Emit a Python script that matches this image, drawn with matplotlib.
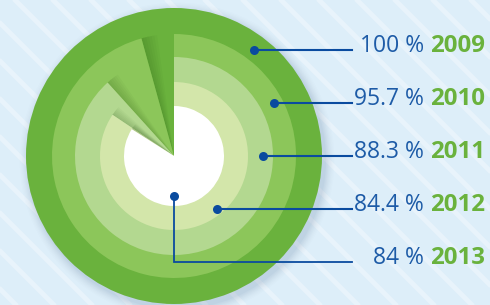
import matplotlib
matplotlib.use("Agg")
import matplotlib.pyplot as plt
from matplotlib.patches import Wedge, Circle, Rectangle
import numpy as np

# ---- data ----
years = ["2009", "2010", "2011", "2012", "2013"]
values = [100, 95.7, 88.3, 84.4, 84]
pct_labels = ["100 %", "95.7 %", "88.3 %", "84.4 %", "84 %"]

# ---- style ----
W, H = 490, 305
radii = [148, 122, 99, 74, 50]
colors = ["#6ab23d", "#8cc65a", "#b3d890", "#d3e6aa", "#ffffff"]
bg = "#ddeef9"
stripe = "#e8f3fb"
blue_txt = "#1d5ba7"
green_txt = "#6ab23d"
line_col = "#0a4b9f"

cx, cy = 174, H - 156
dots_img = [(254, 50), (274, 103), (263, 156), (217, 209), (174, 196)]
line_y_img = [50, 103, 156, 209, 262]
line_end = 352

fig = plt.figure(figsize=(W / 100, H / 100), dpi=100)
ax = fig.add_axes([0, 0, 1, 1])
ax.set_xlim(0, W)
ax.set_ylim(0, H)
ax.set_aspect("auto")
ax.axis("off")

# background
ax.add_patch(Rectangle((0, 0), W, H, color=bg, zorder=0))
for c in np.arange(-60, W + H + 60, 38):
    ax.plot([c - H - 10, c + 10], [H + 10, -10], color=stripe, lw=3.5,
            solid_capstyle="butt", zorder=0.5)

# drop shadow of disc
for k, a in zip(range(8), np.linspace(0.035, 0.01, 8)):
    ax.add_patch(Circle((cx + 3, cy - 4), radii[0] + 1 + k * 1.2,
                        color="#40608a", alpha=a, lw=0, zorder=1))

# wedges with soft shadows at their edges
for i, (v, r, col) in enumerate(zip(values, radii, colors)):
    t1 = 90 - v * 3.6
    ax.add_patch(Wedge((cx, cy), r, t1, 90, facecolor=col, edgecolor="none",
                       zorder=2 + i * 2, antialiased=True))
    if v < 100:
        end = 450 - v * 3.6
        for k in range(6):
            ax.add_patch(Wedge((cx, cy), r, end - 1.0 - k * 1.3, end,
                               facecolor="#1e4a10", alpha=0.035,
                               edgecolor="none", zorder=1.5 + i * 2))

# leader lines, dots and labels
for i in range(len(years)):
    dx, dyi = dots_img[i]
    dy = H - dyi
    ly = H - line_y_img[i]
    if i == len(years) - 1:
        ax.plot([dx, dx, line_end], [dy, ly, ly], color=line_col, lw=1.3,
                zorder=20, solid_joinstyle="miter")
    else:
        ax.plot([dx, line_end], [dy, ly], color=line_col, lw=1.5, zorder=20)
    ax.plot(dx, dy, "o", color=line_col, ms=6.5, mec="none", zorder=21)
    ax.text(424, ly - 2, pct_labels[i], ha="right", va="baseline",
            fontsize=16.5, color=blue_txt, family="Open Sans", zorder=22)
    ax.text(430, ly - 2, years[i], ha="left", va="baseline",
            fontsize=17.3, color=green_txt, family="Open Sans",
            fontweight="bold", zorder=22)

fig.savefig("out.png", dpi=100)
